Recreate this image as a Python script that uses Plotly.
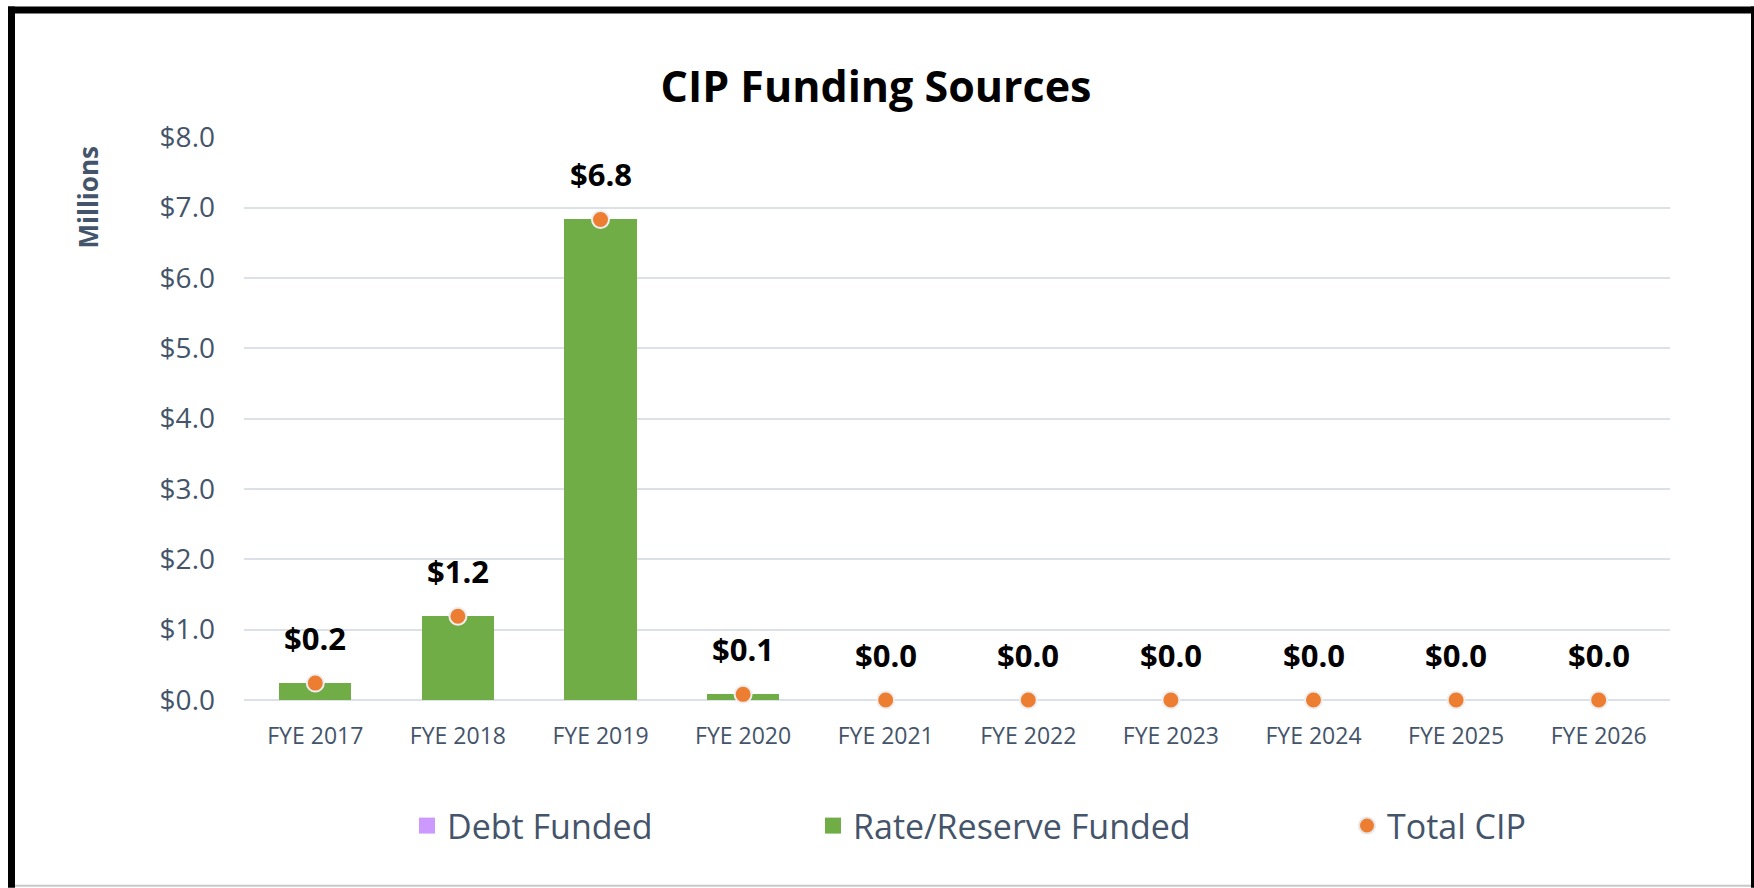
import plotly.graph_objects as go

# ---- data ----
categories = ["FYE 2017", "FYE 2018", "FYE 2019", "FYE 2020", "FYE 2021",
              "FYE 2022", "FYE 2023", "FYE 2024", "FYE 2025", "FYE 2026"]
debt_funded = [0, 0, 0, 0, 0, 0, 0, 0, 0, 0]
rate_reserve_funded = [0.24, 1.19, 6.83, 0.08, 0, 0, 0, 0, 0, 0]
total_cip = [d + r for d, r in zip(debt_funded, rate_reserve_funded)]
y_tick_values = [0, 1, 2, 3, 4, 5, 6, 7, 8]
y_tick_labels = [f"${v:.1f}" for v in y_tick_values]

# ---- style ----
W, H = 1754, 888
L, R, T, B = 244, 1670, 136.5, 700
FONT = "Open Sans"
SLATE = "#44546A"
GREEN = "#70AD47"
ORANGE = "#ED7D31"
PURPLE = "#CC99FF"
GRID = "#DCE1E9"

fig = go.Figure()

fig.add_trace(go.Bar(x=categories, y=debt_funded, name="Debt Funded",
                     marker=dict(color=PURPLE), showlegend=False))
fig.add_trace(go.Bar(x=categories, y=rate_reserve_funded, name="Rate/Reserve Funded",
                     marker=dict(color=GREEN, line=dict(width=0)), showlegend=False))
fig.add_trace(go.Scatter(x=categories, y=total_cip, name="Total CIP", mode="markers",
                         marker=dict(color=ORANGE, size=17, line=dict(color="#EEEEEE", width=2)),
                         cliponaxis=False, showlegend=False))

# legend proxies (one legend per entry so they can be placed like the original)
fig.add_trace(go.Scatter(x=[None], y=[None], name="Debt Funded", mode="markers",
                         marker=dict(symbol="square", color=PURPLE, size=16), legend="legend"))
fig.add_trace(go.Scatter(x=[None], y=[None], name="Rate/Reserve Funded", mode="markers",
                         marker=dict(symbol="square", color=GREEN, size=16), legend="legend2"))
fig.add_trace(go.Scatter(x=[None], y=[None], name="Total CIP", mode="markers",
                         marker=dict(color=ORANGE, size=16, line=dict(color="#E6E6E6", width=2)),
                         legend="legend3"))

# data labels
for c, v in zip(categories, total_cip):
    fig.add_annotation(x=c, y=v, text=f"${v:.1f}", showarrow=False, yshift=45,
                       font=dict(family=FONT, size=31, color="#000000", weight="bold"))

def legend_at(px_text_left):
    return dict(x=(px_text_left - 40) / W, xref="container", xanchor="left",
                y=1 - 826 / H, yref="container", yanchor="middle",
                orientation="h", bgcolor="rgba(0,0,0,0)", borderwidth=0,
                font=dict(family=FONT, size=34, color=SLATE))

fig.update_layout(
    width=W, height=H,
    margin=dict(l=L, r=W - R, t=T, b=H - B, autoexpand=False),
    paper_bgcolor="white", plot_bgcolor="white",
    barmode="stack", bargap=0.495,
    title=dict(text="<b>CIP Funding Sources</b>", x=876 / W, xanchor="center",
               y=1 - 87 / H, yanchor="middle", xref="container", yref="container",
               font=dict(family=FONT, size=43, color="#000000")),
    legend=legend_at(447),
    legend2=legend_at(853),
    legend3=legend_at(1387),
    xaxis=dict(range=[-0.5, len(categories) - 0.5], showgrid=False, showline=False,
               ticks="", zeroline=False,
               tickfont=dict(family=FONT, size=23, color=SLATE), ticklabelstandoff=20),
    yaxis=dict(range=[0, 8.002], tickvals=y_tick_values, ticktext=y_tick_labels,
               showgrid=True, gridcolor=GRID, gridwidth=2,
               zeroline=True, zerolinecolor=GRID, zerolinewidth=2,
               showline=False, ticks="", ticklabelstandoff=28,
               tickfont=dict(family=FONT, size=28, color=SLATE)),
)

fig.add_annotation(text="<b>Millions</b>", textangle=-90, showarrow=False,
                   xref="paper", yref="paper",
                   x=(88 - L) / (R - L), y=(B - 197) / (B - T),
                   xanchor="center", yanchor="middle",
                   font=dict(family=FONT, size=26, color=SLATE))

# frame around the chart
def px_x(p):
    return (p - L) / (R - L)

def px_y(p):
    return (B - p) / (B - T)

frame = [
    (8, 6, W, 13, "#000000"),      # top
    (8, 6, 15, H, "#000000"),      # left
    (1751, 6, W, H, "#000000"),    # right
    (15, 885, 1751, 887, "#C8C8C8"),  # bottom
]
for x0, y0, x1, y1, col in frame:
    fig.add_shape(type="rect", xref="paper", yref="paper",
                  x0=px_x(x0), x1=px_x(x1), y0=px_y(y1), y1=px_y(y0),
                  fillcolor=col, line=dict(width=0), layer="above")

fig.write_html("out.html")
